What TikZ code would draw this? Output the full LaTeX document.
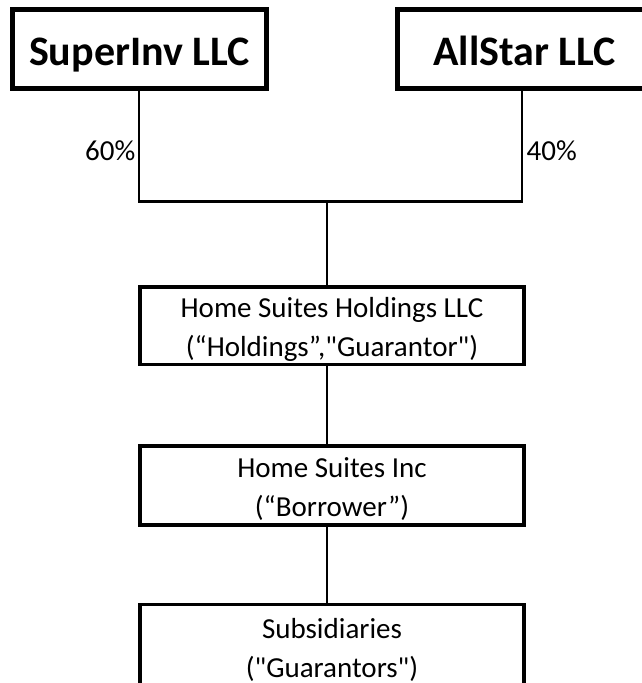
\documentclass[tikz,border=0pt]{standalone}
\usepackage{fontspec}
\setmainfont{Carlito}[Ligatures=TeXOff]
\begin{document}
\begin{tikzpicture}[x=1pt,y=-1pt,
  topbox/.style={draw=black, line width=4.2pt, rectangle, inner sep=0pt,
    minimum width=254pt, minimum height=79pt,
    font=\fontsize{42}{48}\selectfont\bfseries, text height=32pt, text depth=0pt},
  midbox/.style={draw=black, line width=3.5pt, rectangle, inner sep=0pt,
    minimum width=384pt, align=center, font=\fontsize{29}{39}\selectfont},
  pct/.style={inner sep=0pt, font=\fontsize{29}{32}\selectfont},
  conn/.style={draw=black, line width=2.6pt}]
\useasboundingbox (0,0) rectangle (642,683);
\fill[white] (0,0) rectangle (642,683);
\node[topbox] (sup) at (139.5,49) {SuperInv LLC};
\node[topbox] (all) at (524.5,49) {AllStar LLC};
\node[midbox, minimum height=77.5pt, text height=60.5pt, text depth=0pt] (hold) at (332,325.75)
  {Home Suites Holdings LLC\\(“Holdings”,"Guarantor")};
\node[midbox, minimum height=79pt, text height=61pt, text depth=0pt] (borr) at (332,485.5)
  {Home Suites Inc\\(“Borrower”)};
\node[midbox, minimum height=90pt, text height=55pt, text depth=0pt] (subs) at (332,649.5)
  {Subsidiaries\\("Guarantors")};
\coordinate (jl) at (139,201.5);
\coordinate (jr) at (522,201.5);
\coordinate (jm) at (327,201.5);
\node[pct, anchor=east] (p60) at (135.5,151) {60\%};
\node[pct, anchor=west] (p40) at (526.5,151) {40\%};
\draw[conn] (sup.south -| jl) -- (jl) -- (jr) -- (all.south -| jr);
\draw[conn] (jm) -- (hold.north -| jm);
\draw[conn] (hold.south -| jm) -- (borr.north -| jm);
\draw[conn] (borr.south -| jm) -- (subs.north -| jm);
\end{tikzpicture}
\end{document}
